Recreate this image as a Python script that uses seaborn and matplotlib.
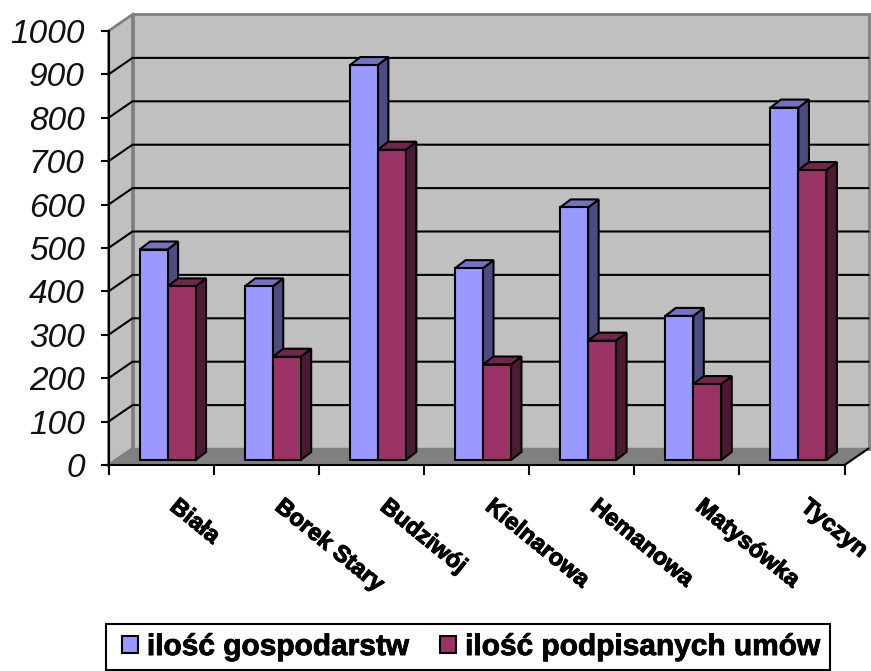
import matplotlib
matplotlib.use("Agg")
import matplotlib.pyplot as plt
import matplotlib.patheffects as pe
import pandas as pd
import seaborn as sns
from matplotlib.legend_handler import HandlerPatch
from matplotlib.patches import Patch, Polygon, Rectangle
from matplotlib.transforms import Affine2D

places = ["Biała", "Borek Stary", "Budziwój", "Kielnarowa", "Hemanowa", "Matysówka", "Tyczyn"]
gospodarstwa = [485, 400, 910, 442, 582, 332, 812]
umowy = [400, 238, 715, 220, 275, 175, 668]
series_names = ["ilość gospodarstw", "ilość podpisanych umów"]
y_ticks = [0, 100, 200, 300, 400, 500, 600, 700, 800, 900, 1000]

colors = ["#9999FF", "#993366"]
side_colors = ["#4C4C80", "#4D1A33"]
top_colors = ["#7373BF", "#73264D"]

W, H = 871, 671
sns.set_style("white")
plt.rcParams["font.family"] = ["Liberation Sans", "DejaVu Sans"]
plt.rcParams["text.color"] = "black"

df = pd.DataFrame({
    "place": places * 2,
    "value": gospodarstwa + umowy,
    "series": [series_names[0]] * len(places) + [series_names[1]] * len(places),
})

fig = plt.figure(figsize=(W / 100, H / 100), dpi=100)
ax = fig.add_axes([108.5 / W, (H - 465) / H, 736 / W, 434 / H])

sns.barplot(data=df, x="place", y="value", hue="series", hue_order=series_names,
            palette=colors, width=0.532, gap=0, saturation=1, legend=False, ax=ax)

ax.set_xlim(-0.5, len(places) - 0.5)
ax.set_ylim(0, 1000)
ax.set_xlabel("")
ax.set_ylabel("")

# pixel sizes in data units, depth of the box and depth of the bars
ux = (len(places)) / 736
uy = 1000 / 434
depth_x, depth_y = 24 * ux, 16.5 * uy
bar_dx, bar_dy = 10.5 * ux, 8 * uy
shift = ax.transData + Affine2D().translate(6.5, 5)

x0, x1 = ax.get_xlim()
y0, y1 = ax.get_ylim()

# walls and floor
ax.add_patch(Polygon([(x0, y0), (x0 + depth_x, y0 + depth_y), (x0 + depth_x, y1 + depth_y), (x0, y1)],
                     fc="#C0C0C0", ec="#808080", lw=2, clip_on=False, zorder=0))
ax.add_patch(Polygon([(x0 + depth_x, y0 + depth_y), (x1 + depth_x, y0 + depth_y),
                      (x1 + depth_x, y1 + depth_y), (x0 + depth_x, y1 + depth_y)],
                     fc="#C0C0C0", ec="#808080", lw=2, clip_on=False, zorder=0))
ax.add_patch(Polygon([(x0, y0), (x1, y0), (x1 + depth_x, y0 + depth_y), (x0 + depth_x, y0 + depth_y)],
                     fc="#808080", ec="#808080", lw=1, clip_on=False, zorder=0.5))
ax.plot([x1, x1 + depth_x], [y0, y0 + depth_y], color="black", lw=1.5, clip_on=False, zorder=1)

for t in y_ticks[1:-1]:
    ax.plot([x0, x0 + depth_x, x1 + depth_x], [t, t + depth_y, t + depth_y],
            color="black", lw=1.5, clip_on=False, zorder=1)

# 3d sides of the bars
for i, cont in enumerate(ax.containers):
    for bar in cont:
        bx, bw, bh = bar.get_x(), bar.get_width(), bar.get_height()
        bar.set_transform(shift)
        bar.set_edgecolor("black")
        bar.set_linewidth(1.5)
        bar.set_zorder(3 + i)
        bar.set_clip_on(False)
        ax.add_patch(Polygon([(bx + bw, 0), (bx + bw + bar_dx, bar_dy), (bx + bw + bar_dx, bh + bar_dy), (bx + bw, bh)],
                             fc=side_colors[i], ec="black", lw=1.5, transform=shift,
                             clip_on=False, zorder=2.5 + i))
        ax.add_patch(Polygon([(bx, bh), (bx + bw, bh), (bx + bw + bar_dx, bh + bar_dy), (bx + bar_dx, bh + bar_dy)],
                             fc=top_colors[i], ec="black", lw=1.5, transform=shift,
                             clip_on=False, zorder=2.5 + i))

# axes
sns.despine(ax=ax, top=True, right=True)
for side in ["left", "bottom"]:
    ax.spines[side].set_color("black")
    ax.spines[side].set_linewidth(1.5)
    ax.spines[side].set_zorder(6)

ax.set_yticks(y_ticks)
ax.set_yticklabels(y_ticks, fontsize=24, fontstyle="italic", color="#111111")
ax.tick_params(axis="y", left=True, length=6, width=1.5, pad=11, color="black")

ax.set_xticks([i - 0.5 for i in range(len(places) + 1)], minor=True)
ax.tick_params(axis="x", which="minor", bottom=True, length=7, width=1.5, color="black")
ax.set_xticks(range(len(places)))
ax.set_xticklabels(places, fontsize=17, fontweight="bold", rotation=-39, color="black",
                   ha="left", va="top", rotation_mode="anchor")
ax.tick_params(axis="x", which="major", bottom=False, pad=18)
label_shift = Affine2D().translate(19, 0)
for lab in ax.get_xticklabels():
    lab.set_transform(lab.get_transform() + label_shift)
    lab.set_path_effects([pe.withStroke(linewidth=0.8, foreground="black")])


# legend swatch sits at the right end of its handle box
def square_swatch(legend, orig_handle, xdescent, ydescent, width, height, fontsize):
    side = 0.55 * fontsize
    return Rectangle((width - side - xdescent, (height - side) / 2 - ydescent), side, side)


handles = [Patch(fc=colors[0], ec="black", lw=1.5), Patch(fc=colors[1], ec="black", lw=1.5)]
leg = fig.legend(handles, series_names, loc="lower left", bbox_to_anchor=(106 / W, 1 / H),
                 ncol=2, frameon=True, fancybox=False, framealpha=1, edgecolor="black",
                 prop={"weight": "bold", "size": 21.5}, handlelength=0.77, handleheight=0.7,
                 handletextpad=0.3, columnspacing=0.8, borderpad=0.3, borderaxespad=0,
                 handler_map={Patch: HandlerPatch(patch_func=square_swatch)})
leg.get_frame().set_linewidth(1.5)
for txt in leg.get_texts():
    txt.set_color("black")
    txt.set_path_effects([pe.withStroke(linewidth=0.6, foreground="black")])

fig.savefig("out.png", dpi=100)
